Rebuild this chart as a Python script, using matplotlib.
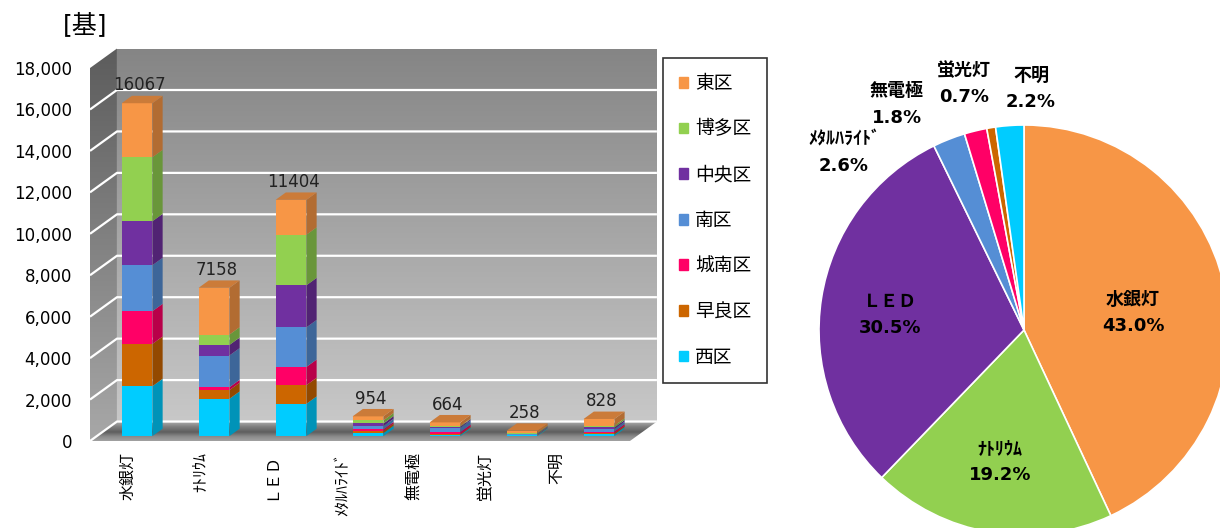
import numpy as np
import matplotlib.pyplot as plt
from matplotlib.patches import Polygon, Patch
from matplotlib.colors import to_rgb, LinearSegmentedColormap

plt.rcParams['font.family'] = ['DejaVu Sans', 'Noto Sans CJK JP']

# ---- data -------------------------------------------------------------
LAMPS = ['水銀灯', 'ﾅﾄﾘｳﾑ', 'ＬＥＤ', 'ﾒﾀﾙﾊﾗｲﾄﾞ', '無電極', '蛍光灯', '不明']

# stacked bottom -> top
WARDS = ['西区', '早良区', '城南区', '南区', '中央区', '博多区', '東区']
NISHI = [2410, 1800, 1560, 150, 60, 40, 80]
SAWARA = [2040, 420, 900, 100, 40, 20, 60]
JONAN = [1580, 140, 880, 80, 100, 10, 80]
MINAMI = [2220, 1530, 1910, 150, 200, 30, 120]
CHUO = [2120, 510, 2030, 130, 60, 20, 80]
HAKATA = [3090, 500, 2440, 150, 30, 30, 80]
HIGASHI = [2607, 2258, 1684, 194, 174, 108, 328]

WARD_COLORS = ['#00CCFF', '#CC6600', '#FF0066', '#558ED5', '#7030A0', '#92D050', '#F79646']
PIE_COLORS = ['#F79646', '#92D050', '#7030A0', '#558ED5', '#FF0066', '#CC6600', '#00CCFF']

stack = np.array([NISHI, SAWARA, JONAN, MINAMI, CHUO, HAKATA, HIGASHI], dtype=float)
totals = stack.sum(axis=0)

# ---- pseudo 3D geometry -----------------------------------------------
DX, DY = 0.35, 940.0          # wall depth, in x units / value units
D0, D1 = 0.25, 0.63           # bar front / back depth
W = 0.40                      # bar width
XL, XR = -0.523, 6.49         # floor extent on the front plane
TOP = 18000


def proj(x, v, d):
    return (x + d * DX, v + d * DY)


def shade(c, f):
    r, g, b = to_rgb(c)
    return (r * f, g * f, b * f)


fig = plt.figure(figsize=(12.2, 5.28), dpi=100)
ax = fig.add_axes([90 / 1220, (528 - 445) / 528, 570 / 1220, 400 / 528])


def gradient(poly, extent, stops, z):
    cmap = LinearSegmentedColormap.from_list('g', stops)
    grad = np.linspace(0, 1, 256).reshape(-1, 1)
    im = ax.imshow(grad, extent=extent, origin='lower', aspect='auto',
                   cmap=cmap, zorder=z, interpolation='bilinear')
    p = Polygon(poly, closed=True, facecolor='none', edgecolor='none')
    ax.add_patch(p)
    im.set_clip_path(p)


# back wall
bx0, by0 = proj(XL, 0, 1)
bx1, by1 = proj(XR, TOP, 1)
gradient([(bx0, by0), (bx1, by0), (bx1, by1), (bx0, by1)],
         (bx0, bx1, by0, by1), ['#c8c8c8', '#858585'], 0)
# side wall
side = [proj(XL, 0, 0), proj(XL, TOP, 0), proj(XL, TOP, 1), proj(XL, 0, 1)]
gradient(side, (XL, XL + DX, 0, TOP + DY), ['#a8a8a8', '#5c5c5c'], 0)
# floor
floor = [proj(XL, 0, 0), proj(XR, 0, 0), proj(XR, 0, 1), proj(XL, 0, 1)]
gradient(floor, (XL, XR + DX, 0, DY),
         [(0, '#a2a2a2'), (0.22, '#8c8c8c'), (0.45, '#5e5e5e'),
          (0.7, '#7c7c7c'), (1, '#b2b2b2')], 1)

for v in range(0, TOP, 2000):
    a, b = proj(XL, v, 0), proj(XL, v, 1)
    c = proj(XR, v, 1)
    ax.plot([a[0], b[0], c[0]], [a[1], b[1], c[1]], color='white',
            linewidth=1.6, zorder=2, solid_capstyle='butt')

# bars
xs = np.arange(len(LAMPS))
bottoms = np.zeros(len(LAMPS))
for k, vals in enumerate(stack):
    col = WARD_COLORS[k]
    fx, fy = proj(xs, bottoms, D0)
    ax.bar(fx, vals, width=W, bottom=fy, color=col, linewidth=0, zorder=4)
    for i in xs:
        b, t = bottoms[i], bottoms[i] + vals[i]
        xr = i + W / 2
        ax.add_patch(Polygon([proj(xr, b, D0), proj(xr, b, D1),
                              proj(xr, t, D1), proj(xr, t, D0)],
                             facecolor=shade(col, 0.72), linewidth=0, zorder=4))
    bottoms = bottoms + vals

for i in xs:
    t = totals[i]
    xl, xr = i - W / 2, i + W / 2
    ax.add_patch(Polygon([proj(xl, t, D0), proj(xr, t, D0),
                          proj(xr, t, D1), proj(xl, t, D1)],
                         facecolor=shade(WARD_COLORS[-1], 0.82), linewidth=0,
                         zorder=4))
    lx, ly = proj(i, t, D1)
    ax.annotate(f'{int(t)}', xy=(proj(i, t, D0)[0] + 0.03, ly),
                xytext=(0, 1), textcoords='offset points',
                ha='center', va='bottom', fontsize=12, color='#222222', zorder=5)

ax.set_xlim(-0.523, 6.88)
ax.set_ylim(-193, 19112)
ax.set_yticks(range(0, TOP + 1, 2000))
ax.set_yticklabels([f'{v:,}' for v in range(0, TOP + 1, 2000)], fontsize=12)
ax.set_xticks(xs * 0.929 - 0.03)
ax.set_xticklabels(LAMPS, rotation=90, fontsize=11.5)
ax.tick_params(axis='y', length=0, pad=13)
ax.tick_params(axis='x', length=0, pad=5)
for s in ax.spines.values():
    s.set_visible(False)

fig.text(85 / 1220, 1 - 25 / 528, '[基]', fontsize=18, ha='center', va='center')

handles = [Patch(color=c) for c in WARD_COLORS[::-1]]
leg = fig.legend(handles, WARDS[::-1], loc='upper left',
                 bbox_to_anchor=(663 / 1220, 1 - 58 / 528), borderaxespad=0,
                 fontsize=13.5, frameon=True, fancybox=False, edgecolor='black',
                 handlelength=0.5, handleheight=0.5, handletextpad=0.35,
                 labelspacing=1.42, borderpad=0.85)
leg.get_frame().set_linewidth(1.2)

# ---- pie ----------------------------------------------------------------
pax = fig.add_axes([819 / 1220, -7 / 528, 410 / 1220, 410 / 528])
pax.pie(totals, colors=PIE_COLORS, startangle=90, counterclock=False,
        wedgeprops=dict(edgecolor='white', linewidth=1.2))
pax.set_xlim(-1, 1)
pax.set_ylim(-1, 1)

LABEL_POS = [(0.532, 0.083), (-0.117, -0.644), (-0.654, 0.073), (-0.878, 0.863),
             (-0.62, 1.10), (-0.293, 1.20), (0.034, 1.176)]
share = totals / totals.sum() * 100
for name, pct, (px, py) in zip(LAMPS, share, LABEL_POS):
    pax.text(px, py, f'{name}\n{pct:.1f}%', ha='center', va='center',
             fontsize=13, fontweight='bold', linespacing=1.6, clip_on=False)

fig.savefig('out.png', dpi=100)
